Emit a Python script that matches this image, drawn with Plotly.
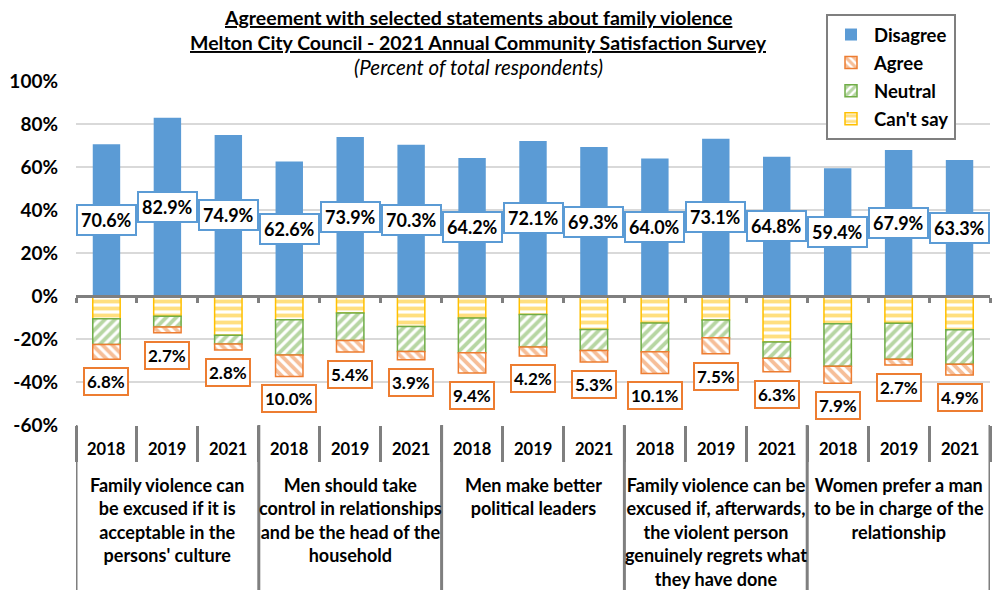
import plotly.graph_objects as go

# Statements (outer category level) and survey years (inner level)
statements = [
    "Family violence can<br>be excused if it is<br>acceptable in the<br>persons' culture",
    "Men should take<br>control in relationships<br>and be the head of the<br>household",
    "Men make better<br>political leaders",
    "Family violence can be<br>excused if, afterwards,<br>the violent person<br>genuinely regrets what<br>they have done",
    "Women prefer a man<br>to be in charge of the<br>relationship",
]
years = ["2018", "2019", "2021"]

# Percent of total respondents, one value per statement/year
disagree = [70.6, 82.9, 74.9, 62.6, 73.9, 70.3, 64.2, 72.1, 69.3, 64.0, 73.1, 64.8, 59.4, 67.9, 63.3]
agree = [6.8, 2.7, 2.8, 10.0, 5.4, 3.9, 9.4, 4.2, 5.3, 10.1, 7.5, 6.3, 7.9, 2.7, 4.9]
neutral = [12.0, 5.0, 4.0, 16.3, 12.8, 11.6, 16.2, 15.1, 9.8, 13.3, 8.2, 7.5, 19.8, 16.7, 16.1]
cant_say = [10.6, 9.4, 18.3, 11.1, 7.9, 14.2, 10.2, 8.6, 15.6, 12.6, 11.2, 21.4, 12.9, 12.7, 15.7]

y_ticks = [-60, -40, -20, 0, 20, 40, 60, 80, 100]

BLUE = "#5B9BD5"
ORANGE = "#ED7D31"
GREEN = "#70AD47"
YELLOW = "#FFC000"
GREY = "#7F7F7F"
GRID = "#D9D9D9"
FONT = "Lato"

n_years = len(years)
n_bars = len(statements) * n_years
xs = list(range(n_bars))
y_min, y_max = y_ticks[0], y_ticks[-1]

W, H = 993, 590
M_L, M_R, M_T, M_B = 76, 3, 81, 165
plot_h = H - M_T - M_B
plot_w = W - M_L - M_R


def px_down(p):
    """Pixels below the plot bottom -> paper y."""
    return -p / plot_h


def px_up(p):
    """Pixels above the plot top -> paper y."""
    return 1 + p / plot_h


fig = go.Figure()

bar_w = 0.45
fig.add_trace(go.Bar(
    x=xs, y=disagree, name="Disagree", width=bar_w,
    marker=dict(color=BLUE, line=dict(width=0)),
    legendrank=1, legendgroup="d",
))


def patterned(values, name, color, shape, rank, group):
    return go.Bar(
        x=xs, y=[-v for v in values], name=name, width=bar_w,
        marker=dict(
            color="white",
            line=dict(color=color, width=1.5),
            pattern=dict(shape=shape, fgcolor=color, bgcolor="white",
                         size=7, solidity=0.55, fillmode="overlay"),
        ),
        legendrank=rank, legendgroup=group,
    )


# Stacked below zero: "Can't say" nearest the axis, then Neutral, then Agree
fig.add_trace(patterned(cant_say, "Can't say", YELLOW, "-", 4, "c"))
fig.add_trace(patterned(neutral, "Neutral", GREEN, "/", 3, "n"))
fig.add_trace(patterned(agree, "Agree", ORANGE, "\\", 2, "a"))

# helper trace so the zero-line axis is drawn
fig.add_trace(go.Scatter(x=[], y=[], xaxis="x2", showlegend=False, hoverinfo="skip"))

annotations = []

# Disagree value boxes, centred in the bar
for i, d in enumerate(disagree):
    annotations.append(dict(
        x=i, y=d / 2, xref="x", yref="y", text=f"<b>{d:.1f}%</b>",
        showarrow=False, bgcolor="white", bordercolor=BLUE, borderwidth=2,
        borderpad=3, font=dict(family=FONT, size=18, color="black"),
    ))

# Agree value boxes, just below the end of each negative stack
for i, a in enumerate(agree):
    bottom = -(cant_say[i] + neutral[i] + a)
    annotations.append(dict(
        x=i, y=bottom, xref="x", yref="y", text=f"<b>{a:.1f}%</b>",
        showarrow=False, yanchor="top", yshift=-8,
        bgcolor="white", bordercolor=ORANGE, borderwidth=2,
        borderpad=2, font=dict(family=FONT, size=17, color="black"),
    ))

# Year labels and statement labels under the plot
for g, stmt in enumerate(statements):
    for k, yr in enumerate(years):
        annotations.append(dict(
            x=g * n_years + k, y=px_down(24), xref="x", yref="paper",
            text=f"<b>{yr}</b>", showarrow=False, yanchor="middle",
            font=dict(family=FONT, size=16.5, color="black"),
        ))
    annotations.append(dict(
        x=g * n_years + (n_years - 1) / 2, y=px_down(47), xref="x", yref="paper",
        text=f"<b>{stmt}</b>", showarrow=False, yanchor="top",
        font=dict(family=FONT, size=18, color="black"),
    ))

# Title block
title_x = (478 - M_L) / plot_w
title_lines = [
    ("<u><b>Agreement with selected statements about family violence</b></u>", 64, 19.5),
    ("<u><b>Melton City Council - 2021 Annual Community Satisfaction Survey</b></u>", 39, 19.5),
    ("<i>(Percent of total respondents)</i>", 14, 20.5),
]
for txt, up, size in title_lines:
    annotations.append(dict(
        x=title_x, y=px_up(up), xref="paper", yref="paper", text=txt,
        showarrow=False, yanchor="middle",
        font=dict(family=FONT, size=size, color="black"),
    ))

# Group dividers running from the plot bottom through the label area
shapes = []
for g in range(len(statements) + 1):
    xb = g * n_years - 0.5
    shapes.append(dict(
        type="line", xref="x", yref="paper", x0=xb, x1=xb,
        y0=0, y1=px_down(M_B + 5), line=dict(color=GREY, width=3),
    ))

boundaries = [i - 0.5 for i in range(n_bars + 1)]

fig.update_layout(
    width=W, height=H,
    margin=dict(l=M_L, r=M_R, t=M_T, b=M_B),
    paper_bgcolor="white", plot_bgcolor="white",
    barmode="relative",
    showlegend=True,
    legend=dict(
        x=(826 - M_L) / plot_w, y=px_up(67), xanchor="left", yanchor="top",
        bgcolor="white", bordercolor=GREY, borderwidth=2,
        font=dict(family=FONT, size=18.5, color="black", weight="bold"),
        tracegroupgap=1, itemwidth=36,
    ),
    xaxis=dict(
        range=[-0.5, n_bars - 0.5], showticklabels=False, showgrid=False,
        zeroline=False, tickvals=boundaries, ticks="outside", ticklen=36,
        tickwidth=3, tickcolor=GREY, showline=False,
    ),
    xaxis2=dict(
        overlaying="x", anchor="free", side="bottom",
        position=(0 - y_min) / (y_max - y_min),
        range=[-0.5, n_bars - 0.5], showticklabels=False, showgrid=False,
        zeroline=False, tickvals=boundaries, ticks="outside", ticklen=5,
        tickwidth=3, tickcolor=GREY, showline=True, linecolor=GREY, linewidth=3,
    ),
    yaxis=dict(
        range=[y_min, y_max], tickvals=y_ticks,
        ticktext=[f"{v}%" for v in y_ticks],
        showgrid=True, gridcolor=GRID, gridwidth=1.5, zeroline=False,
        ticks="", ticklabelstandoff=17,
        tickfont=dict(family=FONT, size=19, color="black", weight="bold"),
    ),
    annotations=annotations,
    shapes=shapes,
)

fig.write_html("out.html")
